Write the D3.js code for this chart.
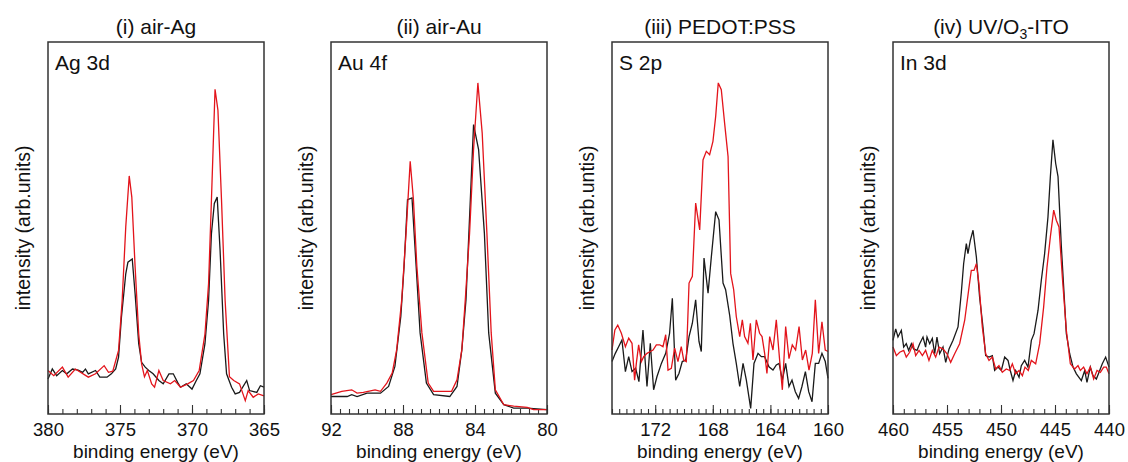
<!DOCTYPE html>
<html>
<head>
<meta charset="utf-8">
<script src="https://cdn.jsdelivr.net/npm/d3@7"></script>
<style>
  body { margin: 0; background: #fff; }
  text { font-family: "Liberation Sans", Arial, sans-serif; fill: #111; }
</style>
</head>
<body>
<div id="chart"></div>
<script>
// spectra: [binding energy (eV), intensity (% of frame height)]
const agBlack = [[380,9.4],[379.7,12.1],[379.4,10.3],[379.0,11.7],[378.7,10.8],[378.3,12.1],[377.9,11.8],[377.6,11.2],[377.4,12.1],[377.2,10.8],[376.7,11.7],[376.4,9.9],[375.9,9.9],[375.6,10.8],[375.3,12.1],[375.1,15.3],[374.9,26.0],[374.6,37.7],[374.45,40.8],[374.15,41.7],[373.95,32.3],[373.7,18.9],[373.5,13.9],[373.25,12.6],[373.0,11.7],[372.7,10.8],[372.3,9.0],[372.0,8.1],[371.6,10.8],[371.3,10.8],[371.0,8.5],[370.8,7.2],[370.4,8.1],[370.0,6.7],[369.7,9.0],[369.45,10.8],[369.1,18.9],[368.85,30.5],[368.65,48.5],[368.45,56.6],[368.25,58.3],[368.05,44.0],[367.8,21.5],[367.6,10.8],[367.25,7.2],[367.0,5.4],[366.7,5.8],[366.2,9.0],[366.0,6.3],[365.5,5.8],[365.25,7.6],[365.0,7.2]];
const agRed = [[380,11.7],[379.6,10.3],[379.0,12.6],[378.6,9.9],[378.1,12.1],[377.2,9.9],[376.7,10.8],[376.1,13.0],[375.8,11.2],[375.5,11.5],[375.1,17.1],[374.85,30.5],[374.6,50.3],[374.36,64.0],[374.18,58.3],[373.95,39.5],[373.7,21.5],[373.5,13.5],[373.3,10.0],[373.1,11.7],[372.8,8.1],[372.6,7.2],[372.3,11.7],[372.0,9.0],[371.5,8.1],[371.2,9.0],[370.8,7.2],[370.3,8.1],[369.9,9.0],[369.5,11.7],[369.1,21.5],[368.85,35.0],[368.65,57.5],[368.4,87.3],[368.2,81.7],[367.95,57.5],[367.7,30.5],[367.4,10.0],[367.1,9.0],[366.7,8.1],[366.3,3.6],[366.1,6.3],[365.75,4.5],[365.4,5.4],[365.0,4.9]];

const auBlack = [[92,4.7],[91.1,4.7],[90.85,5.2],[90.55,4.7],[90.0,5.6],[89.25,5.6],[88.8,7.4],[88.45,12.8],[88.12,26.3],[87.94,39.7],[87.75,57.6],[87.5,58.1],[87.27,39.7],[87.05,21.8],[86.7,8.3],[86.3,5.2],[85.4,4.7],[85.0,7.4],[84.73,17.3],[84.5,30.7],[84.26,57.6],[84.08,77.8],[83.8,71.1],[83.48,48.7],[83.24,21.8],[82.87,5.6],[82.4,2.5],[81.85,1.6],[81.1,1.6],[80,1.2]];
const auRed = [[92,5.2],[91.4,6.1],[90.85,6.5],[90.55,5.6],[90.2,5.8],[89.55,6.5],[89.25,6.1],[88.9,8.3],[88.6,11.0],[88.35,17.3],[88.07,30.7],[87.83,48.7],[87.6,67.9],[87.42,57.6],[87.23,39.7],[86.95,21.8],[86.6,8.3],[86.3,6.1],[85.3,6.1],[85.0,9.2],[84.73,17.3],[84.54,30.7],[84.3,48.7],[84.08,71.1],[83.84,89.0],[83.6,75.5],[83.34,48.7],[83.1,21.8],[82.87,6.5],[82.4,2.5],[81.85,2.1],[81.1,1.8],[80.75,1.2],[80,1.2]];

const pedotBlack = [[175,14.1],[174.77,16.3],[174.54,18.1],[174.31,19.9],[174.07,11.4],[173.84,15.4],[173.61,11.4],[173.36,12.3],[173.13,8.7],[172.85,22.6],[172.57,7.4],[172.34,19.0],[172.11,6.5],[171.88,10.0],[171.57,13.6],[171.27,16.3],[171.0,21.7],[170.81,31.1],[170.58,9.1],[170.35,10.9],[170.12,14.1],[169.88,14.5],[169.65,20.8],[169.42,24.4],[169.19,30.7],[168.96,19.5],[168.8,16.8],[168.61,41.9],[168.33,32.5],[168.1,42.3],[167.8,54.4],[167.57,52.2],[167.29,35.2],[167.11,33.4],[166.83,26.6],[166.6,19.0],[166.37,13.6],[166.13,7.4],[165.9,13.6],[165.67,9.1],[165.37,1.5],[165.14,13.6],[164.86,16.3],[164.63,15.4],[164.4,15.4],[164.1,12.7],[163.82,11.8],[163.59,13.2],[163.4,13.6],[163.17,9.1],[162.94,13.6],[162.71,7.4],[162.5,9.1],[162.27,6.0],[162.04,4.2],[161.81,7.4],[161.57,11.4],[161.34,6.0],[161.11,3.3],[160.88,13.6],[160.65,13.6],[160.42,16.3],[160.19,14.1],[160.0,9.6]];
const pedotRed = [[175,17.2],[174.8,22.6],[174.6,23.9],[174.35,21.7],[174.07,18.1],[173.84,20.4],[173.61,19.0],[173.43,9.1],[173.31,13.6],[173.15,18.6],[172.96,14.1],[172.8,15.4],[172.57,16.3],[172.34,16.8],[172.15,17.2],[171.92,18.6],[171.69,18.6],[171.46,18.1],[171.27,21.3],[171.11,11.8],[170.88,12.3],[170.65,17.7],[170.42,14.1],[170.19,18.1],[170.02,14.5],[169.84,14.1],[169.65,35.2],[169.42,37.0],[169.19,56.7],[168.91,49.5],[168.68,68.3],[168.45,70.6],[168.22,69.7],[167.99,73.3],[167.8,80.0],[167.62,89.0],[167.41,87.2],[167.18,78.2],[166.94,69.2],[166.76,37.8],[166.55,33.4],[166.37,26.2],[166.13,20.8],[165.95,25.3],[165.79,20.8],[165.56,19.0],[165.39,24.4],[165.21,14.5],[164.98,25.3],[164.75,21.7],[164.58,20.8],[164.4,16.3],[164.24,10.9],[164.05,20.8],[163.82,17.2],[163.59,25.3],[163.36,14.5],[163.17,6.5],[162.94,23.5],[162.71,14.9],[162.48,18.6],[162.25,17.2],[162.01,23.5],[161.78,14.5],[161.55,17.2],[161.32,11.8],[161.09,16.3],[160.88,30.7],[160.65,16.3],[160.42,24.8],[160.19,17.2],[160.0,16.8]];

const itoBlack = [[460,19.8],[459.75,22.9],[459.54,20.7],[459.23,22.5],[459.01,18.0],[458.77,18.9],[458.55,17.1],[458.3,18.9],[458.09,17.5],[457.78,17.1],[457.53,18.9],[457.22,20.7],[456.98,18.0],[456.85,20.7],[456.6,18.9],[456.36,20.3],[456.14,16.2],[455.93,20.7],[455.68,16.2],[455.37,18.0],[455.12,13.9],[454.81,17.5],[454.44,19.8],[453.98,23.4],[453.67,32.8],[453.46,40.4],[453.21,45.8],[453.06,43.1],[452.84,46.7],[452.59,49.4],[452.28,42.2],[451.98,31.4],[451.67,23.4],[451.42,15.7],[451.11,15.3],[450.8,15.7],[450.59,11.7],[450.28,12.6],[449.97,11.7],[449.66,15.3],[449.35,14.4],[449.14,11.7],[448.89,9.0],[448.64,11.7],[448.33,9.9],[448.12,13.0],[447.81,14.4],[447.5,12.6],[447.19,19.8],[446.94,21.6],[446.57,27.9],[446.27,35.9],[445.96,43.1],[445.65,53.0],[445.43,63.8],[445.19,73.7],[444.94,67.4],[444.72,63.8],[444.41,44.9],[443.95,21.6],[443.64,16.2],[443.33,12.6],[443.02,10.8],[442.56,9.0],[442.25,11.7],[442.04,8.5],[441.73,12.6],[441.48,10.3],[441.17,9.4],[440.86,11.7],[440.62,13.5],[440.31,15.3],[440.0,12.6]];
const itoRed = [[460,18.0],[459.69,15.7],[459.38,16.6],[459.01,17.1],[458.77,15.3],[458.46,16.6],[458.15,18.9],[457.9,15.7],[457.59,17.1],[457.28,15.7],[456.98,17.1],[456.67,14.4],[456.36,17.1],[456.05,15.3],[455.74,18.0],[455.37,17.5],[455.0,16.2],[454.66,13.9],[454.29,16.2],[453.83,18.9],[453.36,25.2],[452.96,34.1],[452.75,38.6],[452.5,38.6],[452.28,40.4],[452.04,35.0],[451.73,23.4],[451.42,16.2],[451.11,14.4],[450.8,15.3],[450.49,12.1],[450.19,13.0],[449.88,11.2],[449.51,12.1],[449.2,11.7],[448.95,13.5],[448.64,10.8],[448.33,11.7],[448.02,10.3],[447.78,12.6],[447.47,11.7],[447.19,14.4],[446.79,13.5],[446.42,18.9],[446.05,28.8],[445.74,39.5],[445.43,47.6],[445.12,54.8],[444.88,52.1],[444.63,50.3],[444.32,36.8],[443.95,22.5],[443.58,13.5],[443.18,12.1],[442.87,13.0],[442.65,11.7],[442.35,12.6],[442.04,10.8],[441.73,12.6],[441.42,9.4],[441.11,11.7],[440.8,11.2],[440.49,12.6],[440.25,12.6],[440.0,10.8]];

// panel titles, core level labels, y labels, axes
const titles = ["(i) air-Ag", "(ii) air-Au", "(iii) PEDOT:PSS", "(iv) UV/O3-ITO"];
const coreLevels = ["Ag 3d", "Au 4f", "S 2p", "In 3d"];
const yLabels = ["intensity (arb.units)", "intensity (arb.units)", "intensity (arb.untis)", "intensity (arb.units)"];
const xDomains = [[380, 365], [92, 80], [175, 160], [460, 440]];
const majorTicks = [[380, 375, 370, 365], [92, 88, 84, 80], [172, 168, 164, 160], [460, 455, 450, 445, 440]];
const minorSteps = [1, 0.5, 0.5, 1];
const blackSeries = [agBlack, auBlack, pedotBlack, itoBlack];
const redSeries = [agRed, auRed, pedotRed, itoRed];

const W = 1128, H = 462;
const panelLefts = [48, 331, 612, 893];
const pw = 216, frameTop = 42, frameBottom = 414;

const svg = d3.select("#chart").append("svg")
    .attr("width", W)
    .attr("height", H);

panelLefts.forEach((left, i) => {
    let g = svg.append("g").attr("transform", "translate(" + left + ",0)");

    let x = d3.scaleLinear().domain(xDomains[i]).range([0, pw]);
    let y = d3.scaleLinear().domain([0, 100]).range([frameBottom, frameTop]);

    let line = d3.line()
        .x(d => x(d[0]))
        .y(d => y(d[1]));

    // minor ticks (inside)
    let [a, b] = xDomains[i];
    let lo = Math.min(a, b), hi = Math.max(a, b);
    let minor = d3.range(Math.round(lo / minorSteps[i]), Math.round(hi / minorSteps[i]) + 1)
        .map(k => k * minorSteps[i]);

    g.append("g")
        .attr("transform", "translate(0," + frameBottom + ")")
        .call(d3.axisBottom(x).tickValues(minor).tickSize(-5).tickFormat(""))
        .call(ax => ax.select(".domain").remove())
        .selectAll("line").attr("stroke", "#333").attr("stroke-width", 1.1);

    g.append("g")
        .attr("transform", "translate(0," + frameBottom + ")")
        .call(d3.axisBottom(x).tickValues(majorTicks[i]).tickSize(-9).tickPadding(9))
        .call(ax => ax.select(".domain").remove())
        .call(ax => ax.selectAll("line").attr("stroke", "#333").attr("stroke-width", 1.1))
        .call(ax => ax.selectAll("text")
            .attr("font-size", "18.5px")
            .attr("font-family", "'Liberation Sans', Arial, sans-serif")
            .attr("fill", "#111")
            .attr("dy", "0.71em"));

    // spectra
    g.append("path")
        .datum(blackSeries[i])
        .attr("fill", "none")
        .attr("stroke", "#1a1a1a")
        .attr("stroke-width", 1.3)
        .attr("d", line);

    g.append("path")
        .datum(redSeries[i])
        .attr("fill", "none")
        .attr("stroke", "#e3141b")
        .attr("stroke-width", 1.3)
        .attr("d", line);

    // frame
    g.append("rect")
        .attr("x", 0).attr("y", frameTop)
        .attr("width", pw).attr("height", frameBottom - frameTop)
        .attr("fill", "none")
        .attr("stroke", "#333")
        .attr("stroke-width", 1.5);

    // core level label
    g.append("text")
        .attr("x", 7).attr("y", frameTop + 28)
        .attr("font-size", "21px")
        .text(coreLevels[i]);

    // panel title
    let t = g.append("text")
        .attr("x", pw / 2).attr("y", 34)
        .attr("text-anchor", "middle")
        .attr("font-size", "21px");
    if (titles[i].includes("O3")) {
        let parts = titles[i].split("O3");
        t.append("tspan").text(parts[0] + "O");
        t.append("tspan").attr("font-size", "14px").attr("dy", 5).text("3");
        t.append("tspan").attr("dy", -5).text(parts[1]);
    } else {
        t.text(titles[i]);
    }

    // x label
    g.append("text")
        .attr("x", pw / 2).attr("y", 457.5)
        .attr("text-anchor", "middle")
        .attr("font-size", "19px")
        .text("binding energy (eV)");

    // y label
    g.append("text")
        .attr("transform", "translate(-25," + (frameTop + frameBottom) / 2 + ") rotate(-90)")
        .attr("text-anchor", "middle")
        .attr("dominant-baseline", "central")
        .attr("font-size", "19.5px")
        .text(yLabels[i]);
});
</script>
</body>
</html>
